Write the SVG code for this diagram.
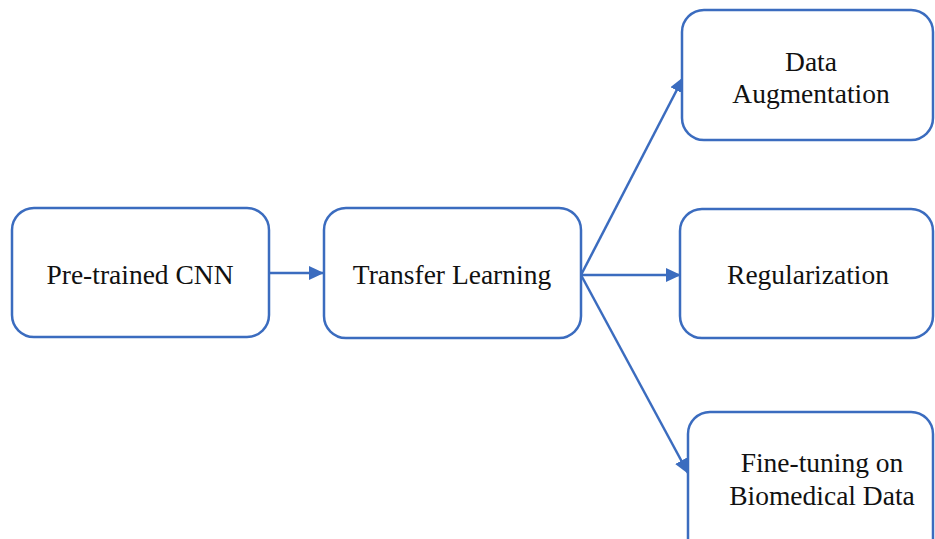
<svg xmlns="http://www.w3.org/2000/svg" width="935" height="539" viewBox="0 0 935 539">
<style>
.box{fill:#fff;stroke:#3b6cbf;stroke-width:2.5}
.lbl{font-family:"Liberation Serif","Times New Roman",serif;font-size:27.5px;fill:#111;text-anchor:middle}
.con{stroke:#3b6cbf;stroke-width:2.5;fill:none}
</style>
<defs>
<marker id="ah" markerWidth="15" markerHeight="14" refX="14" refY="7" orient="auto" markerUnits="userSpaceOnUse">
<path d="M0,0 L15,7 L0,14 Z" fill="#3b6cbf"/>
</marker>
</defs>
<rect width="935" height="539" fill="#fff"/>
<g id="connectors">
<line class="con" x1="269" y1="273" x2="323" y2="273" marker-end="url(#ah)"/>
<line class="con" x1="581" y1="275" x2="683" y2="78" marker-end="url(#ah)"/>
<line class="con" x1="581" y1="275" x2="680" y2="275" marker-end="url(#ah)"/>
<line class="con" x1="581" y1="275" x2="688" y2="473" marker-end="url(#ah)"/>
</g>
<g id="pretrained">
<rect class="box" x="12" y="208" width="257" height="129" rx="22"/>
<text class="lbl" x="140" y="284">Pre-trained CNN</text>
</g>
<g id="transfer">
<rect class="box" x="324" y="208" width="257" height="130" rx="22"/>
<text class="lbl" x="452" y="284">Transfer Learning</text>
</g>
<g id="augmentation">
<rect class="box" x="682" y="10" width="251" height="130" rx="22"/>
<text class="lbl" x="811" y="71">Data</text>
<text class="lbl" x="811" y="103">Augmentation</text>
</g>
<g id="regularization">
<rect class="box" x="680" y="209" width="253" height="129" rx="22"/>
<text class="lbl" x="808" y="284">Regularization</text>
</g>
<g id="finetuning">
<rect class="box" x="688" y="412" width="245" height="150" rx="22"/>
<text class="lbl" x="822" y="472">Fine-tuning on</text>
<text class="lbl" x="822" y="505">Biomedical Data</text>
</g>
</svg>
